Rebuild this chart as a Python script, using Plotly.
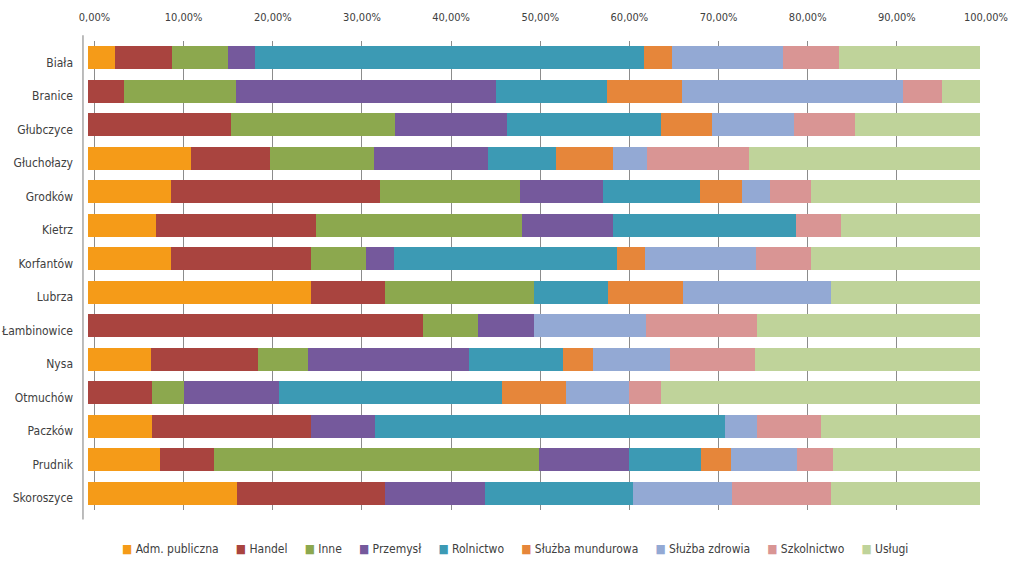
import plotly.graph_objects as go

categories = ["Biała", "Branice", "Głubczyce", "Głuchołazy", "Grodków", "Kietrz", "Korfantów",
              "Lubrza", "Łambinowice", "Nysa", "Otmuchów", "Paczków", "Prudnik", "Skoroszyce"]

adm_publiczna = [3.0, 0, 0, 11.5, 9.3, 7.6, 9.3, 25.0, 0, 7.1, 0, 7.14, 8.1, 16.67]
handel = [6.4, 4.0, 16.0, 8.9, 23.4, 18.0, 15.7, 8.33, 37.5, 12.0, 7.14, 17.86, 6.0, 16.67]
inne = [6.3, 12.6, 18.4, 11.7, 15.7, 23.1, 6.2, 16.67, 6.25, 5.6, 3.57, 0, 36.5, 0]
przemysl = [3.0, 29.1, 12.6, 12.7, 9.3, 10.2, 3.1, 0, 6.25, 18.0, 10.71, 7.14, 10.1, 11.11]
rolnictwo = [43.6, 12.5, 17.2, 7.7, 10.9, 20.5, 25.0, 8.33, 0, 10.6, 25.0, 39.29, 8.0, 16.67]
sluzba_mundurowa = [3.2, 8.4, 5.8, 6.4, 4.7, 0, 3.1, 8.33, 0, 3.3, 7.14, 0, 3.4, 0]
sluzba_zdrowia = [12.4, 24.8, 9.1, 3.8, 3.2, 0, 12.5, 16.67, 12.5, 8.6, 7.14, 3.57, 7.4, 11.11]
szkolnictwo = [6.3, 4.3, 6.9, 11.4, 4.6, 5.0, 6.2, 0, 12.5, 9.6, 3.57, 7.14, 4.0, 11.11]
uslugi = [15.8, 4.3, 14.0, 25.9, 18.9, 15.6, 18.9, 16.67, 25.0, 25.2, 35.71, 17.86, 16.5, 16.67]

series_names = ["Adm. publiczna", "Handel", "Inne", "Przemysł", "Rolnictwo",
                "Służba mundurowa", "Służba zdrowia", "Szkolnictwo", "Usługi"]
series_values = [adm_publiczna, handel, inne, przemysl, rolnictwo,
                 sluzba_mundurowa, sluzba_zdrowia, szkolnictwo, uslugi]
colors = ["#F59B18", "#A9443F", "#8CA84E", "#75599C", "#3C9AB4",
          "#E6863A", "#93A9D4", "#D99594", "#BFD39A"]

tick_vals = [0, 10, 20, 30, 40, 50, 60, 70, 80, 90, 100]
tick_text = ["0,00%", "10,00%", "20,00%", "30,00%", "40,00%", "50,00%",
             "60,00%", "70,00%", "80,00%", "90,00%", "100,00%"]

FONT = "DejaVu Sans Condensed, Liberation Sans Narrow, sans-serif"
TXT = "#404040"

fig = go.Figure()
for name, vals, col in zip(series_names, series_values, colors):
    fig.add_trace(go.Bar(
        y=categories, x=vals, name=name, orientation="h",
        marker=dict(color=col, line=dict(width=0)),
        xaxis="x", yaxis="y", showlegend=False,
    ))

# invisible helper so the percentage (back-wall) axis is rendered
fig.add_trace(go.Scatter(
    x=tick_vals, y=[categories[0]] * len(tick_vals), mode="markers",
    marker=dict(opacity=0, size=1), xaxis="x2", yaxis="y",
    showlegend=False, hoverinfo="skip",
))

# legend drawn as a single text line (compact Excel-like legend)
legend_text = "&nbsp;&nbsp;&nbsp;&nbsp;&nbsp;".join(
    f"<span style='color:{c}'>■</span>&nbsp;{n}" for n, c in zip(series_names, colors)
)

fig.update_layout(
    barmode="stack",
    bargap=0.31,
    width=1024, height=564,
    margin=dict(l=88, r=38, t=41, b=54),
    paper_bgcolor="white", plot_bgcolor="white",
    font=dict(family=FONT, size=12, color=TXT),
    showlegend=False,
    xaxis=dict(range=[0, 100.67], showgrid=False, showticklabels=False,
               zeroline=False, showline=False, fixedrange=True, automargin=False),
    xaxis2=dict(range=[-0.73, 100], overlaying="x", side="top", anchor="y",
                tickvals=tick_vals, ticktext=tick_text,
                showgrid=True, gridcolor="#8C8C8C", gridwidth=1,
                zeroline=False, showline=False, ticks="",
                ticklabelstandoff=17, automargin=False,
                tickfont=dict(family=FONT, size=11, color=TXT)),
    yaxis=dict(categoryorder="array", categoryarray=categories,
               range=[len(categories) - 0.5, -0.5], autorange=False,
               showgrid=False, zeroline=False, showline=False, ticks="",
               ticklabelstandoff=14, ticklabelshift=-5, automargin=False,
               tickfont=dict(family=FONT, size=12, color=TXT)),
    annotations=[dict(text=legend_text, xref="paper", yref="paper",
                      x=0.475, y=-0.083, xanchor="center", yanchor="middle",
                      showarrow=False, font=dict(family=FONT, size=12, color=TXT))],
    shapes=[dict(type="line", xref="paper", yref="paper",
                 x0=-0.0056, x1=-0.0056, y0=-0.02, y1=1.012,
                 line=dict(color="#A6A6A6", width=1.5))],
)

fig.write_html("out.html")
